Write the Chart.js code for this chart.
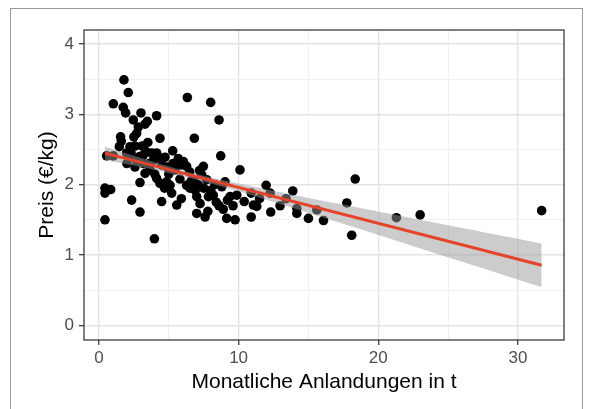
<!DOCTYPE html>
<html>
<head>
<meta charset="utf-8">
<script src="https://cdn.jsdelivr.net/npm/chart.js@4.4.1/dist/chart.umd.min.js"></script>
<style>
    html, body { margin: 0; padding: 0; background: #ffffff; overflow: hidden; }
    #frame { position: absolute; left: 10px; top: 8px; width: 571px; height: 420px; border: 1px solid #9a9a9a; }
    #chart { position: absolute; left: 0; top: 0; }
</style>
</head>
<body>
<div id="frame"></div>
<canvas id="chart" width="591" height="409"></canvas>
<script>
// Data: monthly landings (t) vs. price (EUR/kg)
const landings = [
    1.79, 2.10, 1.03, 1.74, 1.91, 3.01, 4.13, 2.46, 3.46, 3.30,
    6.33, 8.00, 8.60, 2.82, 2.70, 2.50, 4.37, 1.55, 6.83, 1.46,
    2.22, 2.58, 3.37, 3.78, 4.13, 5.28, 4.73, 5.68, 6.04, 8.72,
    0.55, 1.03, 6.28, 7.48, 10.10, 2.58, 2.70, 3.30, 3.66, 2.94,
    4.13, 4.37, 4.85, 5.45, 5.90, 6.50, 5.09, 5.21, 6.28, 6.52,
    7.20, 7.36, 7.72, 7.00, 7.24, 7.84, 8.19, 7.00, 7.60, 8.40,
    8.80, 9.03, 9.15, 9.75, 9.39, 9.87, 10.90, 11.06, 10.90, 0.43,
    0.43, 0.84, 0.43, 2.34, 2.94, 4.49, 5.57, 3.97, 1.98, 3.18,
    11.97, 13.88, 12.26, 13.40, 12.97, 12.30, 14.17, 14.17, 15.00, 16.08,
    15.60, 17.75, 11.30, 18.35, 18.10, 21.30, 23.00, 31.70, 2.20, 3.60,
    4.50, 5.00, 5.80, 6.80, 8.30, 8.00, 9.20, 6.90, 7.50, 8.60,
    10.40, 4.00, 1.60, 3.10, 5.90, 7.80, 9.60, 8.90, 11.50, 4.70,
    3.50, 2.30, 2.90, 3.90, 4.40, 2.00, 3.20, 4.90, 5.30, 6.60,
    7.10
];
const prices = [
    3.49, 3.31, 3.15, 3.10, 3.02, 3.02, 2.98, 2.92, 2.90, 2.86,
    3.24, 3.17, 2.92, 2.82, 2.73, 2.68, 2.66, 2.68, 2.66, 2.54,
    2.54, 2.55, 2.47, 2.45, 2.45, 2.48, 2.39, 2.37, 2.33, 2.41,
    2.41, 2.41, 2.26, 2.26, 2.21, 2.25, 2.35, 2.16, 2.21, 2.03,
    2.09, 2.02, 2.04, 2.21, 2.28, 2.18, 1.99, 1.88, 1.99, 1.95,
    2.20, 2.14, 2.07, 1.83, 1.73, 1.83, 1.85, 1.59, 1.54, 1.75,
    1.97, 2.04, 1.52, 1.50, 1.83, 1.85, 1.88, 1.71, 1.54, 1.50,
    1.95, 1.93, 1.88, 1.78, 1.61, 1.76, 1.71, 1.23, 2.45, 2.42,
    1.99, 1.91, 1.88, 1.80, 1.70, 1.61, 1.66, 1.59, 1.52, 1.49,
    1.64, 1.74, 1.69, 2.08, 1.28, 1.53, 1.57, 1.63, 2.38, 2.30,
    2.28, 2.15, 2.08, 2.05, 2.00, 1.92, 1.78, 1.92, 1.95, 1.70,
    1.76, 2.15, 2.62, 2.55, 1.80, 1.62, 1.70, 1.65, 1.80, 1.95,
    2.60, 2.45, 2.40, 2.35, 2.38, 2.30, 2.30, 2.25, 2.30, 2.05,
    2.00
];

// Fitted regression line and its confidence band
const fitX = [0.43, 31.7];
const fitY = [2.448, 0.853];
const bandX = [0.43, 4, 7, 10, 14, 18, 22, 26, 31.7];
const bandLow = [2.35, 2.21, 2.07, 1.905, 1.66, 1.41, 1.157, 0.904, 0.543];
const bandHigh = [2.54, 2.32, 2.15, 2.015, 1.85, 1.695, 1.539, 1.384, 1.163];

// Axis breaks
const xBreaks = [0, 5, 10, 15, 20, 25, 30];
const xLabels = [0, 10, 20, 30];
const yBreaks = [0, 0.5, 1, 1.5, 2, 2.5, 3, 3.5, 4];
const yLabels = [0, 1, 2, 3, 4];

const FONT = 'Liberation Sans, Arial, Helvetica, sans-serif';

function toPoints(xs, ys) {
    return xs.map((x, i) => ({ x: x, y: ys[i] }));
}

// Draw full panel border like ggplot's theme_bw
const panelBorder = {
    id: 'panelBorder',
    afterDatasetsDraw(chart) {
        const { ctx, chartArea } = chart;
        ctx.save();
        ctx.strokeStyle = '#3c3c3c';
        ctx.lineWidth = 1.3;
        ctx.strokeRect(chartArea.left, chartArea.top, chartArea.right - chartArea.left, chartArea.bottom - chartArea.top);
        ctx.restore();
    }
};

function gridColor(labels) {
    return ctx => labels.includes(ctx.tick && ctx.tick.value) ? '#e4e4e4' : '#efefef';
}
function gridWidth(labels) {
    return ctx => labels.includes(ctx.tick && ctx.tick.value) ? 1.4 : 0.9;
}
function tickColor(labels) {
    return ctx => labels.includes(ctx.tick && ctx.tick.value) ? '#3c3c3c' : 'rgba(0,0,0,0)';
}

new Chart(document.getElementById('chart').getContext('2d'), {
    type: 'scatter',
    data: {
        datasets: [
            {
                type: 'line',
                label: 'Fit',
                data: toPoints(fitX, fitY),
                borderColor: '#e5432a',
                borderWidth: 3,
                pointRadius: 0,
                fill: false,
                order: 0
            },
            {
                type: 'line',
                label: 'CI upper',
                data: toPoints(bandX, bandHigh),
                borderWidth: 0,
                borderColor: 'rgba(0,0,0,0)',
                pointRadius: 0,
                tension: 0.3,
                fill: '+1',
                backgroundColor: 'rgba(153,153,153,0.5)',
                order: 1
            },
            {
                type: 'line',
                label: 'CI lower',
                data: toPoints(bandX, bandLow),
                borderWidth: 0,
                borderColor: 'rgba(0,0,0,0)',
                pointRadius: 0,
                tension: 0.3,
                fill: false,
                order: 1
            },
            {
                label: 'Preis',
                data: toPoints(landings, prices),
                backgroundColor: '#000000',
                borderWidth: 0,
                pointRadius: 4.8,
                order: 2
            }
        ]
    },
    options: {
        responsive: false,
        animation: false,
        layout: { padding: { left: 0, right: 27, top: 30, bottom: 0 } },
        plugins: {
            legend: { display: false },
            tooltip: { enabled: false }
        },
        scales: {
            x: {
                type: 'linear',
                min: -1.07,
                max: 33.3,
                afterBuildTicks: s => { s.ticks = xBreaks.map(v => ({ value: v })); },
                afterFit: s => { s.height = 69; },
                border: { display: false },
                grid: {
                    color: gridColor(xLabels),
                    lineWidth: gridWidth(xLabels),
                    tickColor: tickColor(xLabels),
                    tickLength: 5,
                    tickWidth: 1.3
                },
                ticks: {
                    autoSkip: false,
                    maxRotation: 0,
                    padding: 3,
                    color: '#4d4d4d',
                    font: { family: FONT, size: 17 },
                    callback: v => xLabels.includes(v) ? String(v) : ''
                },
                title: {
                    display: true,
                    text: 'Monatliche Anlandungen in t',
                    color: '#000000',
                    font: { family: FONT, size: 21, lineHeight: 1.2 },
                    padding: { top: 0, bottom: 14 }
                }
            },
            y: {
                type: 'linear',
                min: -0.21,
                max: 4.2,
                afterBuildTicks: s => { s.ticks = yBreaks.map(v => ({ value: v })); },
                afterFit: s => { s.width = 84; },
                border: { display: false },
                grid: {
                    color: gridColor(yLabels),
                    lineWidth: gridWidth(yLabels),
                    tickColor: tickColor(yLabels),
                    tickLength: 5,
                    tickWidth: 1.3
                },
                ticks: {
                    autoSkip: false,
                    padding: 5,
                    color: '#4d4d4d',
                    font: { family: FONT, size: 17 },
                    callback: v => yLabels.includes(v) ? String(v) : ''
                },
                title: {
                    display: true,
                    text: 'Preis (€/kg)',
                    color: '#000000',
                    font: { family: FONT, size: 21, lineHeight: 1.2 },
                    padding: { top: 35, bottom: 0 }
                }
            }
        }
    },
    plugins: [panelBorder]
});
</script>
</body>
</html>
